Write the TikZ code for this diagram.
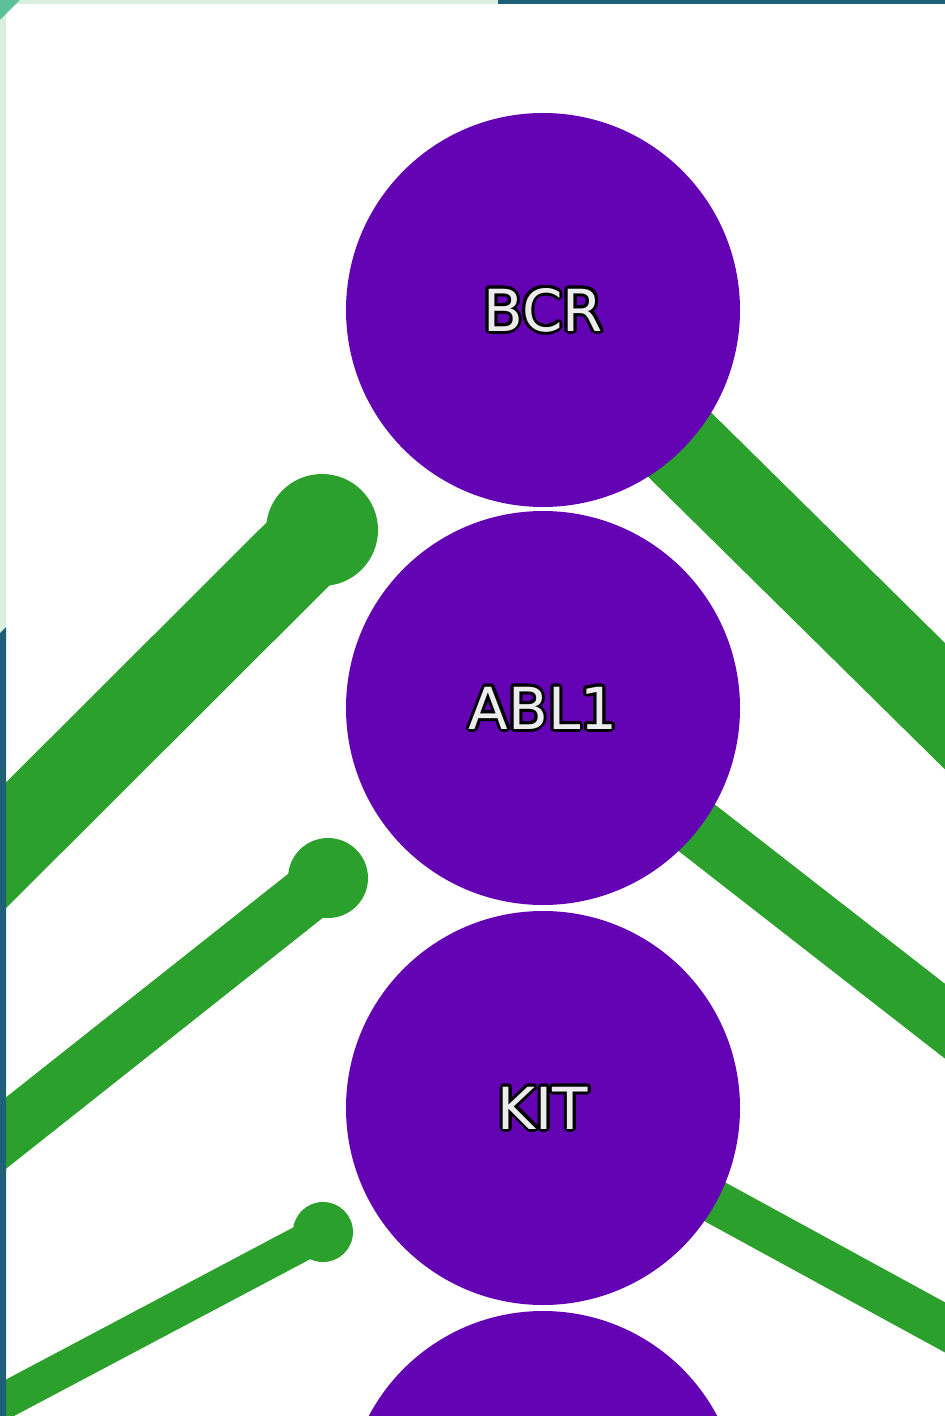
\documentclass[tikz,border=0pt]{standalone}
\usepackage{fontspec}
\newfontfamily\labelfont{DejaVu Sans}
\usetikzlibrary{calc}

\definecolor{nodepurple}{RGB}{99,3,180}
\definecolor{edgegreen}{RGB}{44,160,44}
\definecolor{framepale}{RGB}{217,239,224}
\definecolor{framemid}{RGB}{92,192,154}
\definecolor{frameteal}{RGB}{31,96,121}
\definecolor{labelfill}{RGB}{236,236,236}

% outlined label: dark copies shifted around, light text on top
\newcommand{\haloshift}[3]{\rlap{\kern#1\raisebox{#2}{\color{black}#3}}}
\newcommand{\halotext}[1]{%
  \haloshift{1.5pt}{0pt}{#1}\haloshift{-1.5pt}{0pt}{#1}%
  \haloshift{0pt}{1.5pt}{#1}\haloshift{0pt}{-1.5pt}{#1}%
  \haloshift{1.3pt}{0.75pt}{#1}\haloshift{-1.3pt}{0.75pt}{#1}%
  \haloshift{1.3pt}{-0.75pt}{#1}\haloshift{-1.3pt}{-0.75pt}{#1}%
  \haloshift{0.75pt}{1.3pt}{#1}\haloshift{-0.75pt}{1.3pt}{#1}%
  \haloshift{0.75pt}{-1.3pt}{#1}\haloshift{-0.75pt}{-1.3pt}{#1}%
  {\color{labelfill}#1}}

\tikzset{
  gene/.style={circle, fill=nodepurple, inner sep=0pt, minimum size=197pt,
    font=\labelfont\fontsize{29pt}{34pt}\selectfont},
  edge/.style={draw=edgegreen, line cap=butt},
  blob/.style={fill=edgegreen},
}

\begin{document}
\begin{tikzpicture}[x=0.5pt, y=-0.5pt]
\useasboundingbox (0,0) rectangle (945,1416);
\clip (0,0) rectangle (945,1416);
\fill[white] (0,0) rectangle (945,1416);

% far ends of the edges
\coordinate (r1) at (1100,859);
\coordinate (r2) at (1100,1142);
\coordinate (r3) at (1100,1412);
\coordinate (l1) at (-100,951);
\coordinate (l2) at (-100,1217);
\coordinate (l3) at (-100,1456);
% arrow ends next to the nodes
\coordinate (e1) at (322,530);
\coordinate (e2) at (328,878);
\coordinate (e3) at (323,1232);

% node positions (used before the nodes are drawn on top)
\coordinate (cbcr) at (543,310);
\coordinate (cabl) at (543,708);
\coordinate (ckit) at (543,1108);

% outgoing edges
\draw[edge, line width=45pt] (cbcr) -- (r1);
\draw[edge, line width=29.5pt] (cabl) -- (r2);
\draw[edge, line width=22pt] (ckit) -- (r3);

% incoming edges with rounded heads
\draw[edge, line width=44.5pt] (l1) -- (e1);
\fill[blob] (e1) circle[radius=28pt];
\draw[edge, line width=28pt] (l2) -- (e2);
\fill[blob] (e2) circle[radius=20pt];
\draw[edge, line width=18pt] (l3) -- (e3);
\fill[blob] (e3) circle[radius=15pt];

% gene nodes
\node[gene] (bcr) at (cbcr) {\halotext{BCR}};
\node[gene] (abl1) at (cabl) {\halotext{ABL1}};
\node[gene] (kit) at (ckit) {\halotext{KIT}};
\node[gene] (n4) at (543,1508) {};

% frame strips along the top and left edges
\fill[framepale] (0,0) rectangle (498,4);
\fill[frameteal] (498,0) rectangle (945,4);
\fill[framepale] (0,0) -- (6,0) -- (6,627) -- (0,633) -- cycle;
\fill[frameteal] (0,633) -- (6,627) -- (6,1416) -- (0,1416) -- cycle;
\fill[framemid] (0,0) -- (20,0) -- (0,20) -- cycle;
\end{tikzpicture}
\end{document}
